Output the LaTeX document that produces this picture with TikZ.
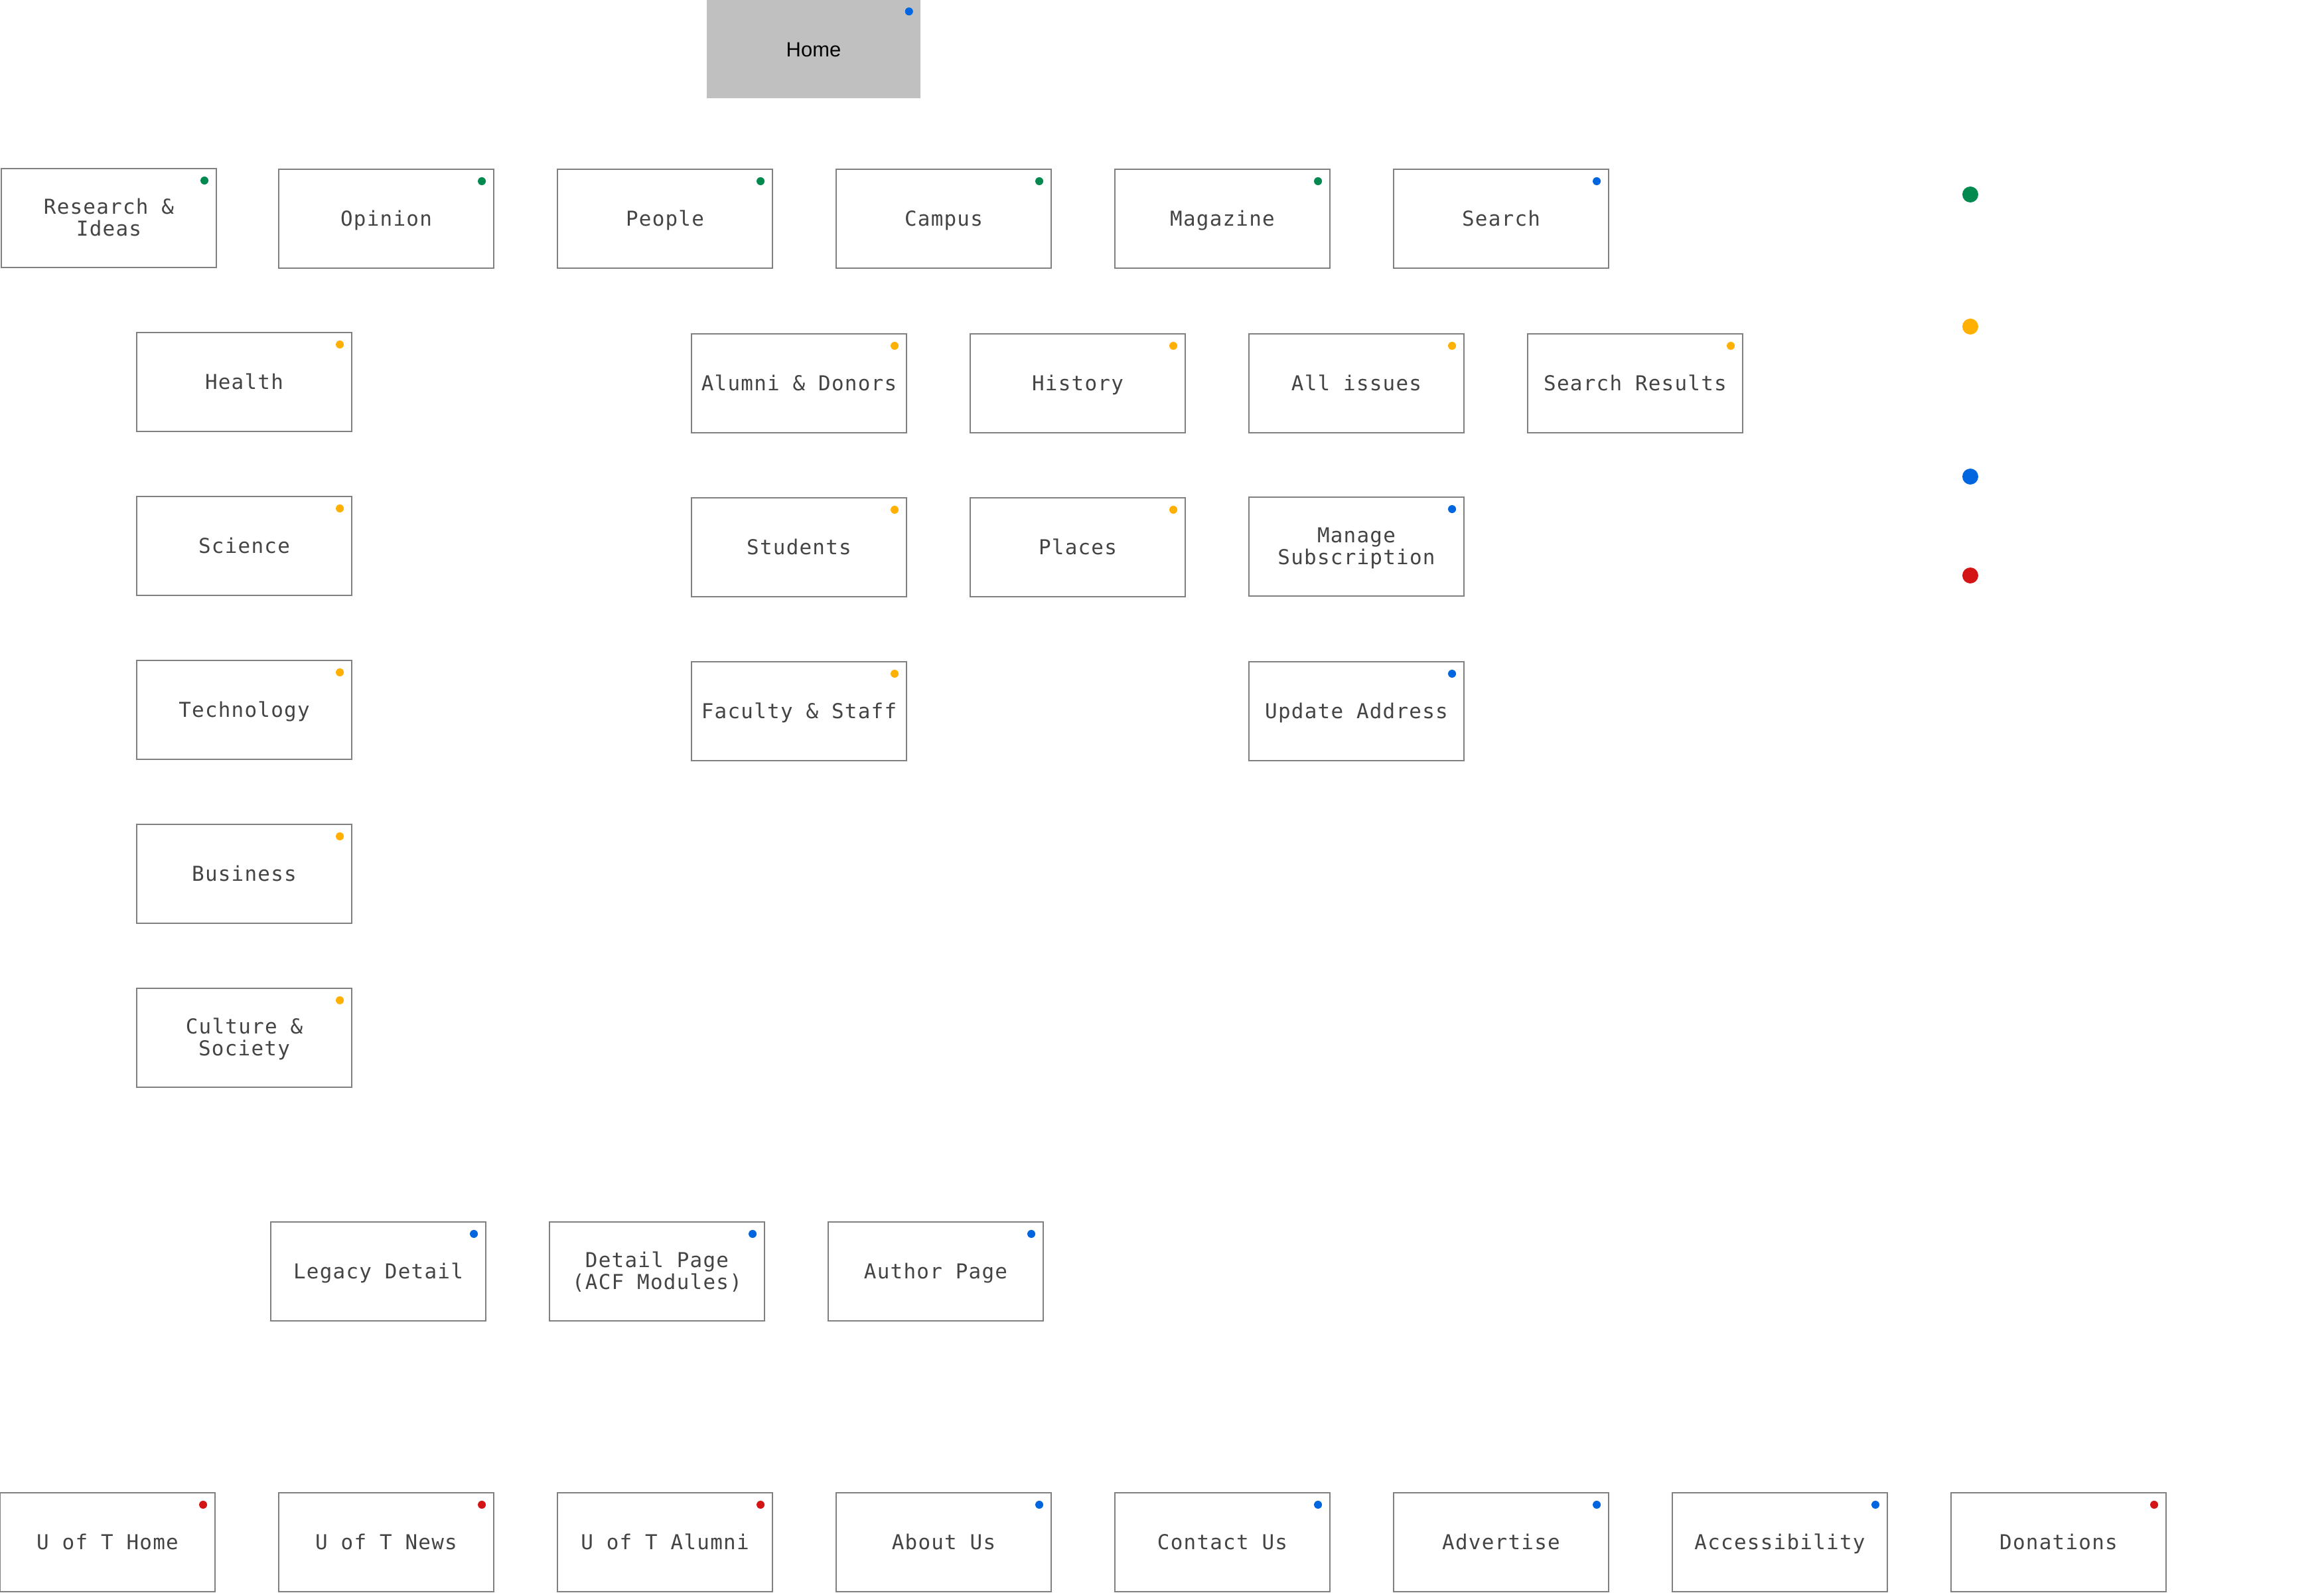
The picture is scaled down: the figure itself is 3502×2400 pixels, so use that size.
\documentclass[tikz,border=0pt]{standalone}
\usepackage{fontspec}
\setmainfont{Liberation Sans}
\newfontfamily\boxmono[LetterSpace=4]{DejaVu Sans Mono}
\usetikzlibrary{calc}
\definecolor{boxline}{HTML}{808080}
\definecolor{boxtext}{HTML}{444444}
\definecolor{homefill}{HTML}{C0C0C0}
\definecolor{dgreen}{HTML}{008A50}
\definecolor{dyellow}{HTML}{FFB000}
\definecolor{dblue}{HTML}{0066E0}
\definecolor{dred}{HTML}{D41515}
\tikzset{
  pagebox/.style={draw=boxline, line width=0.55pt, fill=white, minimum width=3.24cm, minimum height=1.49cm,
    inner sep=0pt, align=center, text=boxtext, text height=0.21cm, text depth=0pt,
    font=\boxmono\fontsize{8.8}{9.2}\selectfont},
  twoline/.style={text height=0.53cm},
  homebox/.style={fill=homefill, minimum width=3.22cm, minimum height=1.48cm, inner sep=0pt,
    text height=0.23cm, text depth=0pt, font=\fontsize{8.8}{10}\selectfont, text=black},
  statusdot/.style={circle, inner sep=0pt, minimum size=0.12cm},
  legenddot/.style={circle, inner sep=0pt, minimum size=0.24cm},
}
% #1 name, #2 left x, #3 top y, #4 text, #5 dot colour, #6 extra options
\newcommand\sitepage[6][]{%
  \node[pagebox,#1] (#2) at (#3+162,#4+74.5) {#5};
  \node[statusdot, fill=#6] (#2-dot) at ($(#2.north east)+(-19,19)$) {};
}
\begin{document}
\begin{tikzpicture}[x=0.01cm,y=-0.01cm]
\useasboundingbox (0,0) rectangle (3502,2400);
% Home
\node[homebox] (home) at (1226,74) {Home};
\node[statusdot, fill=dblue] (home-dot) at ($(home.north east)+(-18,18)$) {};
% top level
\sitepage[twoline]{research}{2}{254}{Research \&\\Ideas}{dgreen}
\sitepage{opinion}{420}{255}{Opinion}{dgreen}
\sitepage{people}{840}{255}{People}{dgreen}
\sitepage{campus}{1260}{255}{Campus}{dgreen}
\sitepage{magazine}{1680}{255}{Magazine}{dgreen}
\sitepage{search}{2100}{255}{Search}{dblue}
% research children
\sitepage{health}{206}{501}{Health}{dyellow}
\sitepage{science}{206}{748}{Science}{dyellow}
\sitepage{technology}{206}{995}{Technology}{dyellow}
\sitepage{business}{206}{1242}{Business}{dyellow}
\sitepage[twoline]{culture}{206}{1489}{Culture \&\\Society}{dyellow}
% people children
\sitepage{alumni}{1042}{503}{Alumni \& Donors}{dyellow}
\sitepage{students}{1042}{750}{Students}{dyellow}
\sitepage{faculty}{1042}{997}{Faculty \& Staff}{dyellow}
% campus children
\sitepage{history}{1462}{503}{History}{dyellow}
\sitepage{places}{1462}{750}{Places}{dyellow}
% magazine children
\sitepage{allissues}{1882}{503}{All issues}{dyellow}
\sitepage[twoline]{manage}{1882}{749}{Manage\\Subscription}{dblue}
\sitepage{update}{1882}{997}{Update Address}{dblue}
% search children
\sitepage{results}{2302}{503}{Search Results}{dyellow}
% detail templates
\sitepage{legacy}{408}{1841}{Legacy Detail}{dblue}
\sitepage[twoline]{detail}{828}{1841}{Detail Page\\(ACF Modules)}{dblue}
\sitepage{author}{1248}{1841}{Author Page}{dblue}
% footer
\sitepage{uthome}{0}{2249}{U of T Home}{dred}
\sitepage{utnews}{420}{2249}{U of T News}{dred}
\sitepage{utalumni}{840}{2249}{U of T Alumni}{dred}
\sitepage{about}{1260}{2249}{About Us}{dblue}
\sitepage{contact}{1680}{2249}{Contact Us}{dblue}
\sitepage{advertise}{2100}{2249}{Advertise}{dblue}
\sitepage{access}{2520}{2249}{Accessibility}{dblue}
\sitepage{donations}{2940}{2249}{Donations}{dred}
% legend
\node[legenddot, fill=dgreen] (leg-green) at (2969,293) {};
\node[legenddot, fill=dyellow] (leg-yellow) at (2969,492) {};
\node[legenddot, fill=dblue] (leg-blue) at (2969,718) {};
\node[legenddot, fill=dred] (leg-red) at (2969,867) {};
\end{tikzpicture}
\end{document}
